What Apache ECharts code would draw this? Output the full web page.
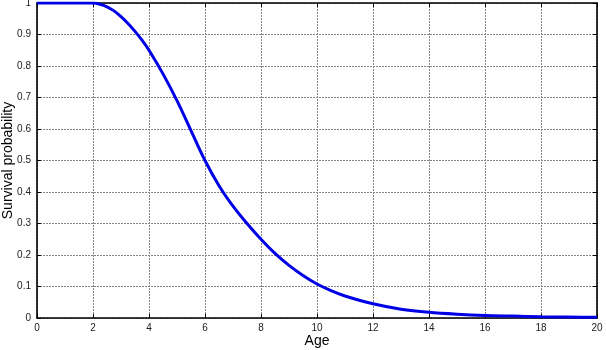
<!DOCTYPE html>
<html>
<head>
<meta charset="utf-8">
<script src="https://cdn.jsdelivr.net/npm/echarts@6/dist/echarts.min.js"></script>
<style>
  html, body { margin: 0; padding: 0; background: #fff; }
  #chart { width: 606px; height: 350px; }
</style>
</head>
<body>
<div id="chart"></div>
<script>
// ages (x) and survival probability
const ages = [0, 1, 2, 2.25, 2.5, 2.75, 3, 3.25, 3.5, 3.75, 4, 4.5, 5, 5.5, 6, 6.5, 7, 7.5, 8, 8.5, 9, 9.5, 10, 10.5, 11, 12, 13, 14, 15, 16, 17, 18, 19, 20];
const survival = [1, 1, 1, 0.996, 0.988, 0.975, 0.957, 0.935, 0.91, 0.882, 0.85, 0.775, 0.69, 0.595, 0.50, 0.42, 0.355, 0.30, 0.25, 0.205, 0.167, 0.135, 0.108, 0.087, 0.07, 0.045, 0.028, 0.018, 0.012, 0.008, 0.006, 0.004, 0.003, 0.002];

const xTicks = [0, 2, 4, 6, 8, 10, 12, 14, 16, 18, 20];
const yTicks = [0, 0.1, 0.2, 0.3, 0.4, 0.5, 0.6, 0.7, 0.8, 0.9, 1];

const dom = document.getElementById('chart');
const chart = echarts.init(dom);

const font = "'Liberation Sans', Arial, sans-serif";
const gridLine = { show: true, lineStyle: { color: '#888', width: 1, type: [2, 1] } };
const frame = { show: true, onZero: false, lineStyle: { color: '#000', width: 1.6 } };
const tick = { show: true, inside: true, length: 4, lineStyle: { color: '#000' } };

const option = {
  backgroundColor: '#fff',
  animation: false,
  grid: { left: 37, right: 9, top: 3, bottom: 32, containLabel: false, outerBoundsMode: 'none' },
  xAxis: [
    {
      type: 'value', min: xTicks[0], max: xTicks[xTicks.length - 1], interval: 2,
      name: 'Age', nameLocation: 'middle', nameGap: 16, nameMoveOverlap: false,
      nameTextStyle: { fontFamily: font, fontSize: 14, color: '#000' },
      axisLine: frame, axisTick: tick, splitLine: gridLine,
      axisLabel: { fontFamily: font, fontSize: 10, color: '#222', margin: 5 }
    },
    {
      type: 'value', min: 0, max: 20, interval: 2, position: 'top',
      axisLine: frame, axisTick: tick, splitLine: { show: false }, axisLabel: { show: false }
    }
  ],
  yAxis: [
    {
      type: 'value', min: yTicks[0], max: yTicks[yTicks.length - 1], interval: 0.1,
      name: 'Survival probability', nameLocation: 'middle', nameGap: 22, nameMoveOverlap: false,
      nameTextStyle: { fontFamily: font, fontSize: 14, color: '#000' },
      axisLine: frame, axisTick: tick, splitLine: gridLine,
      axisLabel: { fontFamily: font, fontSize: 10, color: '#222', margin: 6, formatter: v => String(+v.toFixed(1)) }
    },
    {
      type: 'value', min: 0, max: 1, interval: 0.1, position: 'right',
      axisLine: frame, axisTick: tick, splitLine: { show: false }, axisLabel: { show: false }
    }
  ],
  series: [
    {
      type: 'line',
      data: ages.map((a, i) => [a, survival[i]]),
      smooth: 0.3,
      showSymbol: false,
      lineStyle: { color: '#0000e6', width: 3 },
      z: 5
    }
  ]
};
chart.setOption(option);
window.addEventListener('resize', () => chart.resize());
</script>
</body>
</html>
